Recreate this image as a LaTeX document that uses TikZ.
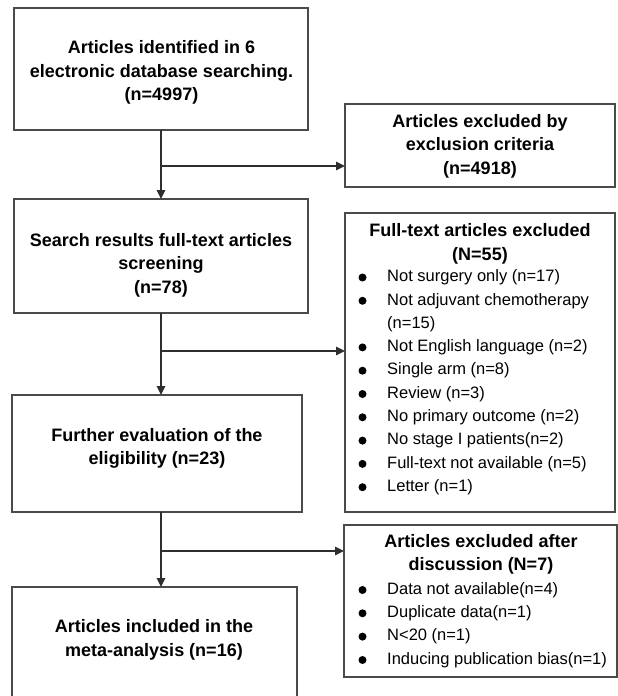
\documentclass[tikz,border=0pt]{standalone}
\usepackage{fontspec}
\setmainfont{Liberation Sans}
\usetikzlibrary{arrows.meta}
\definecolor{boxc}{HTML}{4A4A4A}
\definecolor{linec}{HTML}{2E2E2E}
\begin{document}
\begin{tikzpicture}[x=1pt,y=-1pt,
  box/.style={draw=boxc, line width=1.4pt, inner sep=0pt, outer sep=0pt},
  head/.style={inner sep=0pt, align=center, font=\fontsize{18}{23.5}\selectfont\bfseries},
  item/.style={inner sep=0pt, anchor=west, font=\fontsize{16.5}{20}\selectfont, text height=12pt, text depth=3.5pt},
  arr/.style={draw=linec, line width=1.4pt, -{Triangle[length=9pt,width=8.5pt]}},
  bul/.style={fill=black}]
\useasboundingbox (0,0) rectangle (618,696);
\clip (0,0) rectangle (618,696);
% boxes
\node[box, minimum width=294pt, minimum height=122pt] (b1) at (161,69) {};
\node[box, minimum width=270pt, minimum height=83pt] (e1) at (480,145.5) {};
\node[box, minimum width=294pt, minimum height=114pt] (b2) at (161,256) {};
\node[box, minimum width=270pt, minimum height=299pt] (e2) at (480,362.5) {};
\node[box, minimum width=290pt, minimum height=117pt] (b3) at (157,453.5) {};
\node[box, minimum width=285pt, minimum height=133pt] (b4) at (154.5,653.5) {};
\node[box, minimum width=273pt, minimum height=152pt] (e3) at (480.5,601) {};
% headings
\node[head] (t1) at (161.5,72.5) {Articles identified in 6\\electronic database searching.\\(n=4997)};
\node[head] (te1) at (480,146) {Articles excluded by\\exclusion criteria\\(n=4918)};
\node[head] (t2) at (161,265) {Search results full-text articles\\screening\\(n=78)};
\node[head] (te2) at (480,244) {Full-text articles excluded\\(N=55)};
\node[head] (t3) at (157,448.5) {Further evaluation of the\\eligibility (n=23)};
\node[head] (t4) at (154,640) {Articles included in the\\meta-analysis (n=16)};
\node[head] (te3) at (481,554.5) {Articles excluded after\\discussion (N=7)};
% list items, box e2
\foreach \txt/\yy [count=\k] in {Not surgery only (n=17)/277.5, Not adjuvant chemotherapy/300.8, (n=15)/324.1, Not English language (n=2)/347.4, Single arm (n=8)/370.7, Review (n=3)/394, No primary outcome (n=2)/417.3, No stage I patients(n=2)/440.6, Full-text not available (n=5)/463.9, Letter (n=1)/487.2}
  \node[item] (e2i\k) at (387,\yy) {\txt};
\foreach \yy in {277.5,300.8,347.4,370.7,394,417.3,440.6,463.9,487.2}
  \fill[bul] (362.5,\yy) circle (4pt);
% list items, box e3
\foreach \txt/\yy [count=\k] in {Data not available(n=4)/590, Duplicate data(n=1)/613.3, N<20 (n=1)/636.6, Inducing publication bias(n=1)/660}
  \node[item] (e3i\k) at (387,\yy) {\txt};
\foreach \yy in {590,613.3,636.6,660}
  \fill[bul] (362.5,\yy) circle (4pt);
% connectors
\path (b1.south) ++(0,36) coordinate (j1);
\draw[arr] (b1.south) -- (b2.north);
\draw[arr] (j1) -- (j1 -| e1.west);
\path (b2.south) ++(0,38) coordinate (j2);
\draw[arr] (b2.south) -- (b2.south |- b3.north);
\draw[arr] (j2) -- (j2 -| e2.west);
\coordinate (s3) at (b2.south |- b3.south);
\path (s3) ++(0,39) coordinate (j3);
\draw[arr] (s3) -- (s3 |- b4.north);
\draw[arr] (j3) -- (j3 -| e3.west);
\end{tikzpicture}
\end{document}
